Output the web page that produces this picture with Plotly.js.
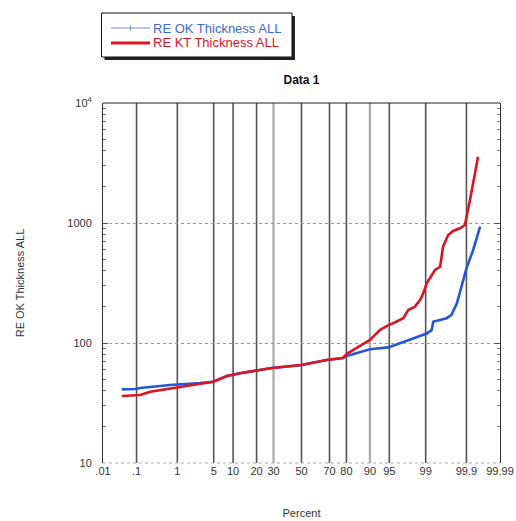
<!DOCTYPE html>
<html><head><meta charset="utf-8">
<script src="https://cdn.plot.ly/plotly-3.0.1.min.js"></script>
<style>html,body{margin:0;padding:0;background:#fff}#chart{width:516px;height:521px}</style>
</head><body><div id="chart"></div>
<script>
// ---- data (percent on a normal-probability axis, value on a log axis) ----
const tickPercents = [0.01, 0.1, 1, 5, 10, 20, 30, 50, 70, 80, 90, 95, 99, 99.9, 99.99];
const tickLabels = ['.01', '.1', '1', '5', '10', '20', '30', '50', '70', '80', '90', '95', '99', '99.9', '99.99'];
const darkGridPercents = [0.1, 1, 5, 10, 20, 50, 70, 80, 95, 99, 99.9];
const lightGridPercents = [30, 90];
const yTickVals = [10, 100, 1000, 10000];
const yTickText = ['10', '100', '1000', '10<sup>4</sup>'];

const okPercent = [0.038, 0.091, 0.125, 0.69, 2.87, 4.9, 8.1, 12.5, 27.8, 50, 68.1, 78.1, 80.1, 90, 94.8, 97.89, 99.05, 99.26, 99.32, 99.67, 99.75, 99.82, 99.865, 99.90, 99.935, 99.959];
const okValue = [41.1, 41.4, 42.2, 44.7, 46.4, 47.6, 53.1, 55.9, 61.5, 65.6, 72.2, 75, 77.9, 88.6, 92, 106, 120, 128, 150, 161, 171, 214, 294, 419, 596, 931];

const ktPercent = [0.038, 0.125, 0.23, 0.97, 4.9, 8.1, 12.5, 27.8, 50, 68.1, 78.1, 80.1, 90, 92.9, 94.8, 95.7, 97.17, 97.72, 98.32, 98.68, 98.87, 99.05, 99.26, 99.38, 99.53, 99.57, 99.60, 99.70, 99.78, 99.85, 99.89, 99.92, 99.953];
const ktValue = [36.2, 36.9, 39.3, 42.8, 47.6, 53.1, 55.9, 61.5, 65.6, 72.2, 75, 81, 106, 128, 141, 146, 161, 188, 201, 228, 259, 314, 369, 406, 432, 524, 635, 794, 863, 903, 962, 1555, 3568];

const okName = 'RE OK Thickness ALL';
const ktName = 'RE KT Thickness ALL';
const blue = '#2456d8';
const red = '#dc1424';

// inverse normal CDF (Acklam) -> probability-axis scale
function probit(p) {
  const a = [-3.969683028665376e+01, 2.209460984245205e+02, -2.759285104469687e+02, 1.383577518672690e+02, -3.066479806614716e+01, 2.506628277459239e+00];
  const b = [-5.447609879822406e+01, 1.615858368580409e+02, -1.556989798598866e+02, 6.680131188771972e+01, -1.328068155288572e+01];
  const c = [-7.784894002430293e-03, -3.223964580411365e-01, -2.400758277161838e+00, -2.549732539343734e+00, 4.374664141464968e+00, 2.938163982698783e+00];
  const d = [7.784695709041462e-03, 3.224671290700398e-01, 2.445134137142996e+00, 3.754408661907416e+00];
  const pl = 0.02425, ph = 1 - pl;
  let q, r;
  if (p < pl) {
    q = Math.sqrt(-2 * Math.log(p));
    return (((((c[0]*q+c[1])*q+c[2])*q+c[3])*q+c[4])*q+c[5]) / ((((d[0]*q+d[1])*q+d[2])*q+d[3])*q+1);
  }
  if (p <= ph) {
    q = p - 0.5; r = q * q;
    return (((((a[0]*r+a[1])*r+a[2])*r+a[3])*r+a[4])*r+a[5])*q / (((((b[0]*r+b[1])*r+b[2])*r+b[3])*r+b[4])*r+1);
  }
  q = Math.sqrt(-2 * Math.log(1 - p));
  return -(((((c[0]*q+c[1])*q+c[2])*q+c[3])*q+c[4])*q+c[5]) / ((((d[0]*q+d[1])*q+d[2])*q+d[3])*q+1);
}
const toZ = pc => probit(pc / 100);

const minorVals = [];
for (let dec = 10; dec < 10000; dec *= 10) for (let m = 2; m <= 9; m++) minorVals.push(dec * m);

const traces = [
  {x: okPercent.map(toZ), y: okValue, name: okName, mode: 'lines', line: {color: blue, width: 2.6}, showlegend: false, hoverinfo: 'skip'},
  {x: ktPercent.map(toZ), y: ktValue, name: ktName, mode: 'lines', line: {color: red, width: 2.6}, showlegend: false, hoverinfo: 'skip'}
];

// pixel helpers for layout decoration (plot area: x 103..500, y 103..463)
const px = v => (v - 103) / 397;
const py = v => (463 - v) / 360;

const shapes = [];
darkGridPercents.forEach(p => shapes.push({type: 'line', xref: 'x', yref: 'paper', x0: toZ(p), x1: toZ(p), y0: 0, y1: 1, layer: 'below', line: {color: '#555', width: 1.6}}));
lightGridPercents.forEach(p => shapes.push({type: 'line', xref: 'x', yref: 'paper', x0: toZ(p), x1: toZ(p), y0: 0, y1: 1, layer: 'below', line: {color: '#aaa', width: 2.2}}));
shapes.push({type: 'line', xref: 'paper', yref: 'paper', x0: 0, x1: 1, y0: 1, y1: 1, line: {color: '#222', width: 1}});
shapes.push({type: 'line', xref: 'paper', yref: 'paper', x0: 0, x1: 1, y0: 0, y1: 0, line: {color: '#aaa', width: 1, dash: 'dot'}});
// legend box with drop shadow
shapes.push({type: 'rect', xref: 'paper', yref: 'paper', x0: px(104.5), x1: px(295), y0: py(60), y1: py(16), fillcolor: '#222', line: {width: 0}, layer: 'above'});
shapes.push({type: 'rect', xref: 'paper', yref: 'paper', x0: px(101.5), x1: px(292), y0: py(57), y1: py(13), fillcolor: '#fff', line: {color: '#111', width: 1}, layer: 'above'});
// legend samples
shapes.push({type: 'line', xref: 'paper', yref: 'paper', x0: px(111), x1: px(150), y0: py(28), y1: py(28), line: {color: '#7390d4', width: 1}, layer: 'above'});
shapes.push({type: 'line', xref: 'paper', yref: 'paper', x0: px(130.5), x1: px(130.5), y0: py(25.5), y1: py(30.5), line: {color: '#7390d4', width: 1}, layer: 'above'});
shapes.push({type: 'line', xref: 'paper', yref: 'paper', x0: px(111), x1: px(150), y0: py(43), y1: py(43), line: {color: red, width: 3}, layer: 'above'});

const annotations = [
  {text: okName, xref: 'paper', yref: 'paper', x: px(151), y: py(28), xanchor: 'left', yanchor: 'middle', showarrow: false, font: {size: 13, color: '#3d68d6'}},
  {text: ktName, xref: 'paper', yref: 'paper', x: px(151), y: py(43), xanchor: 'left', yanchor: 'middle', showarrow: false, font: {size: 13, color: red}}
];

const layout = {
  width: 516, height: 521,
  margin: {l: 103, r: 16, t: 103, b: 58},
  paper_bgcolor: '#fff', plot_bgcolor: '#fff',
  font: {family: '"Liberation Sans", Arial, sans-serif', size: 11, color: '#333'},
  title: {text: '<b>Data 1</b>', x: 0.5, xref: 'paper', y: 1 - 80 / 521, yref: 'container', yanchor: 'middle', font: {size: 12, color: '#111'}},
  xaxis: {
    range: [toZ(0.01), toZ(99.99)], tickmode: 'array', tickvals: tickPercents.map(toZ), ticktext: tickLabels,
    showgrid: false, zeroline: false, showline: false, ticks: '', fixedrange: true,
    title: {text: 'Percent', standoff: 33, font: {size: 11}}
  },
  yaxis: {
    type: 'log', range: [1, 4], tickmode: 'array', tickvals: yTickVals, ticktext: yTickText,
    showline: true, linecolor: '#333', linewidth: 1, mirror: 'ticks', ticks: 'inside', ticklen: 5, tickcolor: '#555',
    showgrid: true, gridcolor: '#999', griddash: 'dot', gridwidth: 1, zeroline: false, ticklabelstandoff: 8,
    minor: {tickmode: 'array', tickvals: minorVals, ticks: 'inside', ticklen: 3, tickcolor: '#777', showgrid: false},
    title: {text: 'RE OK Thickness ALL', standoff: 40, font: {size: 11}}
  },
  showlegend: false,
  shapes: shapes,
  annotations: annotations,
  hovermode: false
};

Plotly.newPlot('chart', traces, layout, {staticPlot: true, displayModeBar: false});
</script>
</body></html>
